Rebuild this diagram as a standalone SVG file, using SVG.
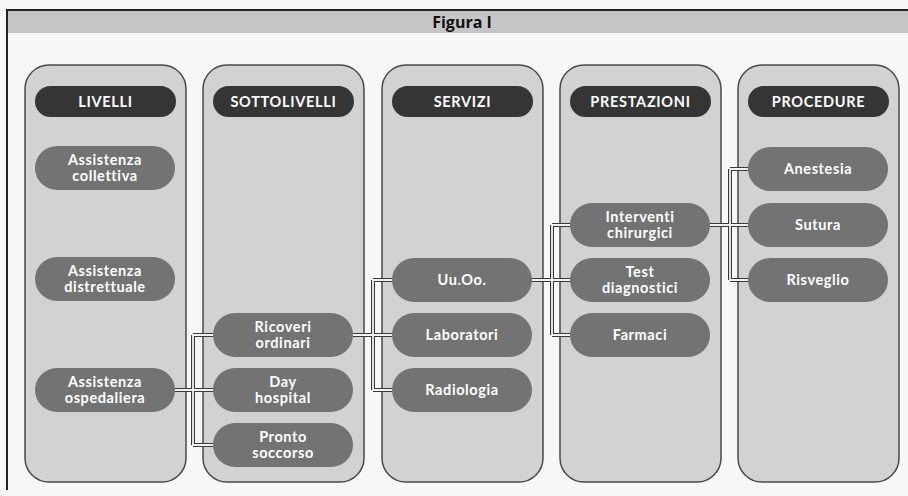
<svg xmlns="http://www.w3.org/2000/svg" xmlns:xlink="http://www.w3.org/1999/xlink" width="908" height="496" viewBox="0 0 908 496">
<style>
.panel{fill:#d2d2d2;stroke:#4a4a4a;stroke-width:1.5}
.hdr{fill:#353535}
.node{fill:#737373}
.ht{font-family:Lato,"Open Sans",sans-serif;font-weight:bold;font-size:14.5px;fill:#fff;text-anchor:middle;letter-spacing:0.7px}
.nt{font-family:Lato,"Open Sans",sans-serif;font-weight:bold;font-size:14.5px;fill:#fff;text-anchor:middle;letter-spacing:0.6px}
.co{fill:none;stroke:#3a3a3a;stroke-width:4}
.ci{fill:none;stroke:#f2f2f2;stroke-width:1.8}
</style>
<defs>
<path id="wires" d="M175,390 H193 M193,335 V445 M193,335 H213 M193,390 H213 M193,445 H213 M353,335 H392 M373,280 V390 M373,280 H392 M373,390 H392 M532,280 H570 M552,225 V335 M552,225 H570 M552,335 H570 M710,225 H748 M730,169 V280 M730,169 H748 M730,280 H748"/>
</defs>
<rect x="0" y="0" width="908" height="496" fill="#f7f7f7"/>
<g id="title">
<rect x="6" y="10" width="902" height="23" fill="#c6c6c6"/>
<line x1="6" y1="10" x2="908" y2="10" stroke="#222" stroke-width="2"/>
<line x1="7" y1="10" x2="7" y2="490" stroke="#222" stroke-width="2"/>
<text x="462" y="27.5" style="font-family:'Liberation Sans Narrow','Open Sans',sans-serif;font-weight:bold;font-size:16px;fill:#111;text-anchor:middle">Figura I</text>
</g>
<g id="panels">
<rect class="panel" x="25" y="65" width="161" height="417" rx="24"/>
<rect class="panel" x="203" y="65" width="161" height="417" rx="24"/>
<rect class="panel" x="382" y="65" width="161" height="417" rx="24"/>
<rect class="panel" x="560" y="65" width="161" height="417" rx="24"/>
<rect class="panel" x="738" y="65" width="161" height="417" rx="24"/>
</g>
<g id="connectors">
<use xlink:href="#wires" class="co"/>
<use xlink:href="#wires" class="ci"/>
</g>
<g id="h-livelli"><rect class="hdr" x="35" y="86" width="141" height="31" rx="15.5"/><text class="ht" x="105.5" y="106.5">LIVELLI</text></g>
<g id="h-sottolivelli"><rect class="hdr" x="213" y="86" width="141" height="31" rx="15.5"/><text class="ht" x="283.5" y="106.5">SOTTOLIVELLI</text></g>
<g id="h-servizi"><rect class="hdr" x="392" y="86" width="141" height="31" rx="15.5"/><text class="ht" x="462.5" y="106.5">SERVIZI</text></g>
<g id="h-prestazioni"><rect class="hdr" x="570" y="86" width="141" height="31" rx="15.5"/><text class="ht" x="640.5" y="106.5">PRESTAZIONI</text></g>
<g id="h-procedure"><rect class="hdr" x="748" y="86" width="141" height="31" rx="15.5"/><text class="ht" x="818.5" y="106.5">PROCEDURE</text></g>

<g id="n-collettiva"><rect class="node" x="35" y="146" width="140" height="44" rx="22"/><text class="nt" x="105" y="164.5">Assistenza</text><text class="nt" x="105" y="181">collettiva</text></g>
<g id="n-distrettuale"><rect class="node" x="35" y="257" width="140" height="44" rx="22"/><text class="nt" x="105" y="275.5">Assistenza</text><text class="nt" x="105" y="292">distrettuale</text></g>
<g id="n-ospedaliera"><rect class="node" x="35" y="368" width="140" height="44" rx="22"/><text class="nt" x="105" y="386.5">Assistenza</text><text class="nt" x="105" y="403">ospedaliera</text></g>

<g id="n-ricoveri"><rect class="node" x="213" y="313" width="140" height="44" rx="22"/><text class="nt" x="283" y="331.5">Ricoveri</text><text class="nt" x="283" y="348">ordinari</text></g>
<g id="n-day"><rect class="node" x="213" y="368" width="140" height="44" rx="22"/><text class="nt" x="283" y="386.5">Day</text><text class="nt" x="283" y="403">hospital</text></g>
<g id="n-pronto"><rect class="node" x="213" y="423" width="140" height="44" rx="22"/><text class="nt" x="283" y="441.5">Pronto</text><text class="nt" x="283" y="458">soccorso</text></g>

<g id="n-uuoo"><rect class="node" x="392" y="258" width="140" height="44" rx="22"/><text class="nt" x="462" y="285">Uu.Oo.</text></g>
<g id="n-laboratori"><rect class="node" x="392" y="313" width="140" height="44" rx="22"/><text class="nt" x="462" y="340">Laboratori</text></g>
<g id="n-radiologia"><rect class="node" x="392" y="368" width="140" height="44" rx="22"/><text class="nt" x="462" y="395">Radiologia</text></g>

<g id="n-interventi"><rect class="node" x="570" y="203" width="140" height="44" rx="22"/><text class="nt" x="640" y="221.5">Interventi</text><text class="nt" x="640" y="238">chirurgici</text></g>
<g id="n-test"><rect class="node" x="570" y="258" width="140" height="44" rx="22"/><text class="nt" x="640" y="276.5">Test</text><text class="nt" x="640" y="293">diagnostici</text></g>
<g id="n-farmaci"><rect class="node" x="570" y="313" width="140" height="44" rx="22"/><text class="nt" x="640" y="340">Farmaci</text></g>

<g id="n-anestesia"><rect class="node" x="748" y="147" width="140" height="44" rx="22"/><text class="nt" x="818" y="174">Anestesia</text></g>
<g id="n-sutura"><rect class="node" x="748" y="203" width="140" height="44" rx="22"/><text class="nt" x="818" y="230">Sutura</text></g>
<g id="n-risveglio"><rect class="node" x="748" y="258" width="140" height="44" rx="22"/><text class="nt" x="818" y="285">Risveglio</text></g>
</svg>
